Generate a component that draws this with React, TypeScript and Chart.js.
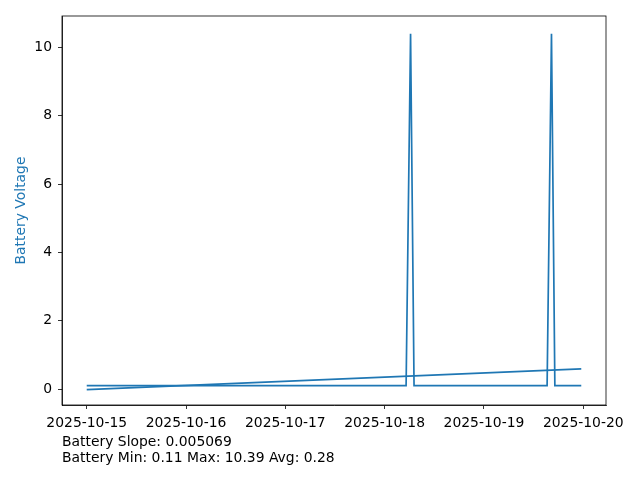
import React, { useEffect, useRef } from "react";
import { Chart, registerables } from "chart.js";

Chart.register(...registerables);

// x values are days after 2025-10-15 00:00
const batteryDays = [0, 3.216, 3.261, 3.296, 4.636, 4.68, 4.714, 4.98];
const batteryVoltage = [0.11, 0.11, 10.39, 0.11, 0.11, 10.39, 0.11, 0.11];
const trendDays = [0, 4.98];
const trendVoltage = [-0.01, 0.596];

const xTickValues = [0, 1, 2, 3, 4, 5];
const xTickLabels = ["2025-10-15", "2025-10-16", "2025-10-17", "2025-10-18", "2025-10-19", "2025-10-20"];
const yTickValues = [0, 2, 4, 6, 8, 10];

const yAxisTitle = "Battery Voltage";
const footerLines = ["Battery Slope: 0.005069", "Battery Min: 0.11 Max: 10.39 Avg: 0.28"];

const BLUE = "#1f77b4";
const FONT = "'DejaVu Sans', sans-serif";

export default function App() {
  const ref = useRef<HTMLCanvasElement | null>(null);

  useEffect(() => {
    const canvas = ref.current;
    if (!canvas) return;

    const framePlugin = {
      id: "frameAndText",
      afterDraw(chart: any) {
        const { ctx, chartArea } = chart;
        ctx.save();
        ctx.strokeStyle = "#000";
        ctx.lineWidth = 0.8;
        ctx.strokeRect(chartArea.left, chartArea.top, chartArea.right - chartArea.left, chartArea.bottom - chartArea.top);
        ctx.fillStyle = "#000";
        ctx.font = `13.9px ${FONT}`;
        ctx.textAlign = "left";
        ctx.textBaseline = "alphabetic";
        footerLines.forEach((line, i) => {
          ctx.fillText(line, 62, 446 + i * 16);
        });
        ctx.restore();
      },
    };

    const chart = new Chart(canvas, {
      type: "line",
      data: {
        datasets: [
          {
            data: batteryDays.map((d, i) => ({ x: d, y: batteryVoltage[i] })),
            borderColor: BLUE,
            backgroundColor: BLUE,
            borderWidth: 1.7,
            pointRadius: 0,
            tension: 0,
          },
          {
            data: trendDays.map((d, i) => ({ x: d, y: trendVoltage[i] })),
            borderColor: BLUE,
            backgroundColor: BLUE,
            borderWidth: 1.7,
            pointRadius: 0,
            tension: 0,
          },
        ],
      },
      options: {
        animation: false,
        responsive: false,
        maintainAspectRatio: false,
        layout: { padding: { top: 16, right: 34, left: 0, bottom: 0 } },
        plugins: { legend: { display: false }, tooltip: { enabled: false } },
        scales: {
          x: {
            type: "linear",
            min: -0.249,
            max: 5.229,
            afterBuildTicks: (axis: any) => {
              axis.ticks = xTickValues.map((v) => ({ value: v }));
            },
            afterFit: (axis: any) => {
              axis.height = 75;
            },
            grid: { drawOnChartArea: false, drawTicks: true, tickLength: 4, color: "#000", lineWidth: 0.8 },
            border: { display: true, color: "#000", width: 0.8 },
            ticks: {
              autoSkip: false,
              maxRotation: 0,
              padding: 6,
              color: "#000",
              font: { family: FONT, size: 13.9 },
              callback: (value: any) => {
                const idx = xTickValues.indexOf(Number(value));
                return idx >= 0 ? xTickLabels[idx] : "";
              },
            },
          },
          y: {
            type: "linear",
            min: -0.458,
            max: 10.91,
            afterBuildTicks: (axis: any) => {
              axis.ticks = yTickValues.map((v) => ({ value: v }));
            },
            afterFit: (axis: any) => {
              axis.width = 62;
            },
            grid: { drawOnChartArea: false, drawTicks: true, tickLength: 4, color: "#000", lineWidth: 0.8 },
            border: { display: true, color: "#000", width: 0.8 },
            title: {
              display: true,
              text: yAxisTitle,
              color: BLUE,
              font: { family: FONT, size: 13.9 },
              padding: { top: 13, bottom: 0 },
            },
            ticks: {
              autoSkip: false,
              padding: 6,
              color: "#000",
              font: { family: FONT, size: 13.9 },
              callback: (value: any) => String(value),
            },
          },
        },
      },
      plugins: [framePlugin],
    });

    return () => chart.destroy();
  }, []);

  return (
    <div style={{ position: "absolute", left: 0, top: 0, width: 640, height: 480, background: "#fff" }}>
      <canvas ref={ref} width={640} height={480} style={{ width: 640, height: 480, display: "block" }} />
    </div>
  );
}
